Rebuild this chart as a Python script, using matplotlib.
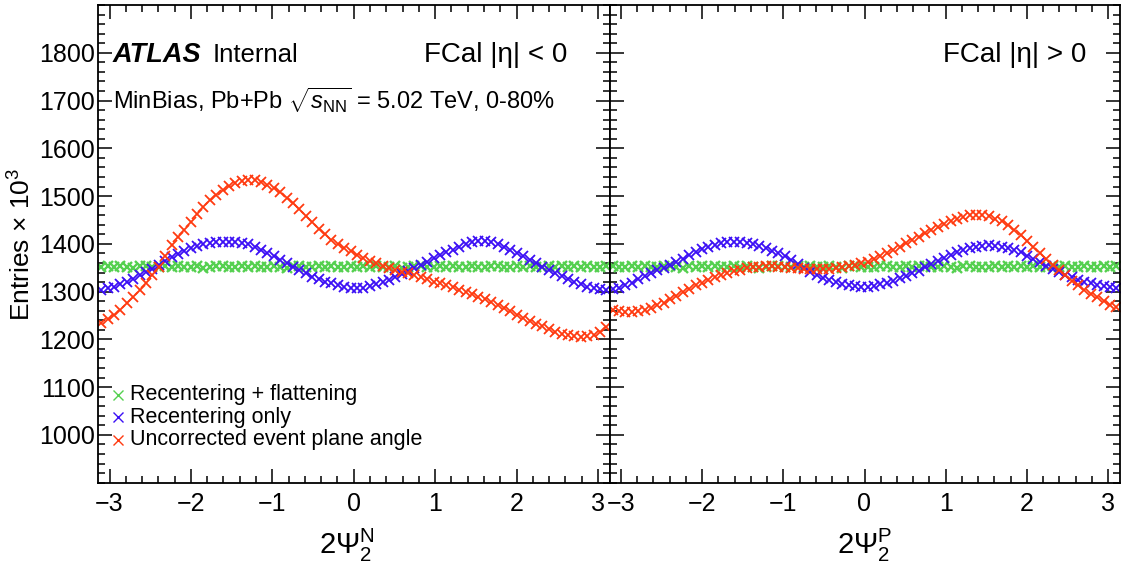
import numpy as np
import matplotlib
matplotlib.use("Agg")
import matplotlib.pyplot as plt
from matplotlib.ticker import MultipleLocator, FixedLocator

plt.rcParams['font.family'] = ['Liberation Sans', 'DejaVu Sans']
plt.rcParams['mathtext.fontset'] = 'custom'
plt.rcParams['mathtext.rm'] = 'Liberation Sans'
plt.rcParams['mathtext.it'] = 'Liberation Sans:italic'
plt.rcParams['mathtext.bf'] = 'Liberation Sans:bold'

# 80 bins in 2*Psi_2 over [-pi, pi]
n_bins = 80

# FCal eta < 0 side (Psi_2^N)
flat_neg = [1352, 1354, 1351, 1353, 1352, 1350, 1353, 1354, 1352, 1351,
            1353, 1352, 1354, 1351, 1352, 1353, 1350, 1352, 1354, 1353,
            1351, 1352, 1353, 1352, 1354, 1351, 1352, 1353, 1352, 1350,
            1353, 1354, 1352, 1351, 1353, 1352, 1354, 1352, 1351, 1353,
            1352, 1353, 1351, 1354, 1352, 1352, 1353, 1350, 1352, 1354,
            1353, 1351, 1352, 1353, 1352, 1354, 1351, 1352, 1353, 1352,
            1351, 1353, 1354, 1352, 1351, 1353, 1352, 1354, 1352, 1351,
            1353, 1352, 1353, 1351, 1354, 1352, 1353, 1352, 1351, 1353]
recenter_neg = [1304, 1307, 1310, 1315, 1320, 1327, 1335, 1341, 1348, 1356,
                1364, 1372, 1379, 1386, 1392, 1396, 1399, 1402, 1403, 1404,
                1404, 1403, 1402, 1399, 1394, 1388, 1381, 1374, 1366, 1359,
                1352, 1345, 1338, 1331, 1326, 1321, 1317, 1313, 1310, 1308,
                1307, 1308, 1311, 1315, 1320, 1325, 1331, 1337, 1343, 1349,
                1356, 1363, 1370, 1376, 1382, 1388, 1394, 1399, 1403, 1405,
                1405, 1403, 1399, 1394, 1388, 1381, 1374, 1366, 1359, 1352,
                1345, 1338, 1332, 1326, 1320, 1315, 1310, 1307, 1305, 1304]
raw_neg = [1234, 1242, 1251, 1262, 1276, 1289, 1303, 1318, 1334, 1352,
           1374, 1397, 1414, 1430, 1446, 1462, 1478, 1492, 1503, 1513,
           1521, 1527, 1531, 1534, 1533, 1529, 1523, 1516, 1508, 1497,
           1485, 1472, 1459, 1445, 1432, 1420, 1409, 1400, 1392, 1384,
           1377, 1370, 1364, 1359, 1354, 1350, 1346, 1342, 1338, 1334,
           1330, 1326, 1321, 1317, 1313, 1309, 1304, 1299, 1294, 1289,
           1284, 1278, 1272, 1266, 1259, 1252, 1245, 1239, 1233, 1227,
           1221, 1216, 1212, 1209, 1207, 1206, 1207, 1210, 1216, 1225]

# FCal eta > 0 side (Psi_2^P)
flat_pos = [1353, 1351, 1352, 1354, 1352, 1353, 1351, 1352, 1354, 1353,
            1352, 1350, 1353, 1352, 1354, 1351, 1353, 1352, 1352, 1354,
            1351, 1353, 1352, 1350, 1352, 1353, 1354, 1352, 1351, 1353,
            1352, 1354, 1351, 1352, 1353, 1352, 1350, 1353, 1354, 1352,
            1351, 1352, 1353, 1354, 1352, 1351, 1353, 1352, 1354, 1353,
            1352, 1351, 1353, 1352, 1350, 1353, 1354, 1352, 1352, 1351,
            1353, 1352, 1354, 1351, 1353, 1352, 1353, 1351, 1352, 1354,
            1352, 1353, 1351, 1352, 1354, 1352, 1351, 1353, 1352, 1353]
recenter_pos = [1305, 1308, 1313, 1319, 1326, 1333, 1339, 1345, 1350, 1356,
                1362, 1369, 1376, 1383, 1389, 1394, 1398, 1401, 1403, 1404,
                1403, 1402, 1399, 1395, 1391, 1386, 1380, 1374, 1366, 1358,
                1350, 1342, 1335, 1329, 1324, 1320, 1316, 1313, 1311, 1310,
                1310, 1312, 1315, 1319, 1323, 1328, 1333, 1338, 1344, 1351,
                1357, 1364, 1371, 1377, 1382, 1387, 1391, 1394, 1396, 1397,
                1396, 1394, 1391, 1387, 1382, 1375, 1368, 1361, 1354, 1347,
                1341, 1335, 1330, 1325, 1321, 1317, 1314, 1311, 1309, 1307]
raw_pos = [1262, 1259, 1258, 1258, 1259, 1262, 1266, 1271, 1277, 1284,
           1291, 1299, 1306, 1313, 1319, 1325, 1330, 1335, 1339, 1343,
           1346, 1349, 1351, 1352, 1353, 1353, 1352, 1351, 1350, 1349,
           1348, 1347, 1347, 1347, 1348, 1349, 1351, 1353, 1356, 1359,
           1363, 1368, 1374, 1380, 1387, 1394, 1401, 1408, 1415, 1422,
           1429, 1436, 1442, 1448, 1453, 1457, 1460, 1461, 1461, 1458,
           1453, 1447, 1439, 1429, 1419, 1406, 1393, 1380, 1368, 1356,
           1345, 1334, 1323, 1313, 1304, 1296, 1288, 1280, 1273, 1267]

labels = ["Recentering + flattening", "Recentering only", "Uncorrected event plane angle"]
colors = ["#55d050", "#3c10f5", "#ff3a10"]
y_ticks = [1000, 1100, 1200, 1300, 1400, 1500, 1600, 1700, 1800]

edges = np.linspace(-np.pi, np.pi, n_bins + 1)
centers = 0.5 * (edges[:-1] + edges[1:])

fig = plt.figure(figsize=(11.21, 5.67), dpi=100)
ax1 = fig.add_axes([98 / 1121, 1 - 482.7 / 567, 511.5 / 1121, 477.7 / 567])
ax2 = fig.add_axes([609.5 / 1121, 1 - 482.7 / 567, 510 / 1121, 477.7 / 567])

panels = [(ax1, [flat_neg, recenter_neg, raw_neg], "FCal |\u03b7| < 0", 0.917),
          (ax2, [flat_pos, recenter_pos, raw_pos], "FCal |\u03b7| > 0", 0.936)]

for ax, series, tag, tag_x in panels:
    for vals, c in zip(series, colors):
        mew = 1.7 if c == colors[0] else 1.3
        ax.plot(centers, vals, linestyle='none', marker='x', color=c,
                markersize=6.5, markeredgewidth=mew)
    ax.set_xlim(-np.pi, np.pi)
    ax.set_ylim(900, 1900)
    ax.xaxis.set_major_locator(MultipleLocator(1))
    ax.xaxis.set_minor_locator(MultipleLocator(0.2))
    ax.yaxis.set_major_locator(FixedLocator(y_ticks))
    ax.yaxis.set_minor_locator(MultipleLocator(20))
    ax.tick_params(which='both', direction='in', top=True, right=True,
                   width=1.1, labelsize=18)
    ax.tick_params(which='major', length=10)
    ax.tick_params(which='minor', length=5)
    ax.tick_params(axis='x', pad=7)
    ax.tick_params(axis='y', pad=2)
    for s in ax.spines.values():
        s.set_linewidth(1.3)
    ax.text(tag_x, 0.8953, tag, transform=ax.transAxes, ha='right',
            va='center', fontsize=20)

ax2.set_yticklabels([])

# ATLAS label and dataset description
ax1.text(0.0293, 0.8953, "ATLAS", transform=ax1.transAxes, ha='left',
         va='center', fontsize=19.5, fontweight='bold', fontstyle='italic')
ax1.text(0.225, 0.8953, "Internal", transform=ax1.transAxes, ha='left',
         va='center', fontsize=18.5)
ax1.text(0.0293, 0.801, r"MinBias, Pb+Pb $\sqrt{s_\mathrm{NN}}$ = 5.02 TeV, 0-80%",
         transform=ax1.transAxes, ha='left', va='center', fontsize=17)

# legend drawn by hand in the corner of the left panel
for yl, lab, c in zip([0.1836, 0.1375, 0.0894], labels, colors):
    ax1.plot([0.039], [yl], transform=ax1.transAxes, linestyle='none',
             marker='x', color=c, markersize=7, markeredgewidth=1.0, clip_on=False)
    ax1.text(0.0626, yl, lab, transform=ax1.transAxes, ha='left',
             va='center', fontsize=15.5)

fig.text(347 / 1121, 1 - 545 / 567, r"$2\Psi_{2}^{\mathrm{N}}$", ha='center',
         va='center', fontsize=21)
fig.text(865 / 1121, 1 - 545 / 567, r"$2\Psi_{2}^{\mathrm{P}}$", ha='center',
         va='center', fontsize=21)
fig.text(22 / 1121, 1 - 244 / 567, r"Entries $\times$ 10$^{3}$", rotation=90,
         ha='center', va='center', fontsize=19)

fig.savefig("out.png", dpi=100)
